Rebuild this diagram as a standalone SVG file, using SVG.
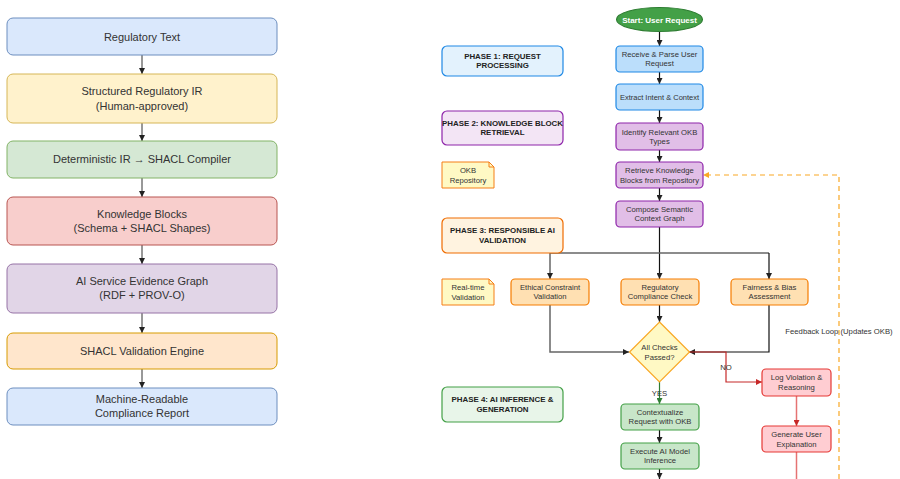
<svg xmlns="http://www.w3.org/2000/svg" width="900" height="479" viewBox="0 0 900 479">
<defs>
<marker id="ah" viewBox="0 0 10 10" refX="10" refY="5" markerWidth="6" markerHeight="6" markerUnits="userSpaceOnUse" orient="auto"><path d="M0,0 L10,5 L0,10 z" fill="#222"/></marker>
<marker id="ahr" viewBox="0 0 10 10" refX="10" refY="5" markerWidth="6" markerHeight="6" markerUnits="userSpaceOnUse" orient="auto"><path d="M0,0 L10,5 L0,10 z" fill="#c62828"/></marker>
<marker id="ahg" viewBox="0 0 10 10" refX="10" refY="5" markerWidth="6" markerHeight="6" markerUnits="userSpaceOnUse" orient="auto"><path d="M0,0 L10,5 L0,10 z" fill="#2e7d32"/></marker>
<marker id="aho" viewBox="0 0 10 10" refX="10" refY="5" markerWidth="6" markerHeight="6" markerUnits="userSpaceOnUse" orient="auto"><path d="M0,0 L10,5 L0,10 z" fill="#f9a825"/></marker>
</defs>
<style>
text{font-family:"Liberation Sans",Arial,sans-serif;fill:#333;text-anchor:middle}
.l{font-size:11px}
.s{font-size:7.7px}
.b{font-size:7.9px;font-weight:bold;fill:#222}
.w{font-size:8px;font-weight:bold;fill:#fff}
.c{fill:none;stroke:#333;stroke-width:1;marker-end:url(#ah)}
.k{fill:none;stroke:#111;stroke-width:1.2;marker-end:url(#ah)}
.g{fill:none;stroke:#666;stroke-width:1.5}
.blue{fill:#dae8fc;stroke:#6c8ebf}
.yel{fill:#fff2cc;stroke:#d6b656}
.grn{fill:#d5e8d4;stroke:#82b366}
.red{fill:#f8cecc;stroke:#b85450}
.pur{fill:#e1d5e7;stroke:#9673a6}
.org{fill:#ffe6cc;stroke:#d79b00}
.pb{fill:#bbdefb;stroke:#1e88e5;stroke-width:1.2}
.pp{fill:#e1bee7;stroke:#8e24aa;stroke-width:1.2}
.po{fill:#ffe0b2;stroke:#f57c00;stroke-width:1.2}
.pg{fill:#c8e6c9;stroke:#43a047;stroke-width:1.2}
.pr{fill:#ffcdd2;stroke:#e53935;stroke-width:1.2}
.note{fill:#fff9c4;stroke:#f57f17;stroke-width:1}
</style>
<rect width="900" height="479" fill="#fff"/>

<g id="connectors">
<line class="c" x1="142" y1="55" x2="142" y2="74"/>
<line class="c" x1="142" y1="123" x2="142" y2="141"/>
<line class="c" x1="142" y1="178" x2="142" y2="197"/>
<line class="c" x1="142" y1="245" x2="142" y2="264"/>
<line class="c" x1="142" y1="313" x2="142" y2="333"/>
<line class="c" x1="142" y1="369" x2="142" y2="388"/>

<line class="k" x1="659.5" y1="32" x2="659.5" y2="46"/>
<line class="k" x1="659.5" y1="72" x2="659.5" y2="84"/>
<line class="k" x1="659.5" y1="110" x2="659.5" y2="123"/>
<line class="k" x1="659.5" y1="150" x2="659.5" y2="162"/>
<line class="k" x1="659.5" y1="188" x2="659.5" y2="201"/>
<line class="k" x1="659.5" y1="227" x2="659.5" y2="279"/>
<polyline class="g" points="550,253 769,253"/>
<path class="g" d="M550,253 V279" style="marker-end:url(#ah)"/>
<path class="k" d="M769,253 V279"/>
<path class="k" d="M659.5,305 V322"/>
<path class="g" d="M550,305 V352 H629" style="marker-end:url(#ah)"/>
<path class="k" d="M769,305 V352 H689"/>
<path d="M689,352 H726 V382 H762" fill="none" stroke="#c62828" stroke-width="1.2" marker-end="url(#ahr)"/>
<path d="M659.5,382 V404" fill="none" stroke="#2e7d32" stroke-width="1.2" marker-end="url(#ahg)"/>
<line class="k" x1="659.5" y1="430" x2="659.5" y2="443"/>
<line class="k" x1="659.5" y1="469" x2="659.5" y2="479" style="marker-end:url(#ah)"/>
<line x1="796.5" y1="396" x2="796.5" y2="426" stroke="#e57373" stroke-width="1.5" marker-end="url(#ahr)"/>
<line x1="796.5" y1="452" x2="796.5" y2="479" stroke="#e57373" stroke-width="1.5"/>
<path d="M839,479 V175 H703" fill="none" stroke="#f9a825" stroke-width="1.2" stroke-dasharray="5,4" marker-end="url(#aho)"/>
<text class="s" x="839" y="334">Feedback Loop (Updates OKB)</text>
<text class="s" x="659.5" y="396">YES</text>
<text class="s" x="726" y="370">NO</text>
</g>

<g id="n-regtext"><rect class="blue" x="7" y="18" width="270" height="37" rx="6"/><text class="l" x="142" y="41">Regulatory Text</text></g>
<g id="n-ir"><rect class="yel" x="7" y="74" width="270" height="49" rx="6"/><text class="l" x="142" y="95">Structured Regulatory IR</text><text class="l" x="142" y="110">(Human-approved)</text></g>
<g id="n-compiler"><rect class="grn" x="7" y="141" width="270" height="37" rx="6"/><text class="l" x="142" y="163">Deterministic IR → SHACL Compiler</text></g>
<g id="n-kb"><rect class="red" x="7" y="197" width="270" height="48" rx="6"/><text class="l" x="142" y="218">Knowledge Blocks</text><text class="l" x="142" y="232">(Schema + SHACL Shapes)</text></g>
<g id="n-evidence"><rect class="pur" x="7" y="264" width="270" height="49" rx="6"/><text class="l" x="142" y="285">AI Service Evidence Graph</text><text class="l" x="142" y="299">(RDF + PROV-O)</text></g>
<g id="n-engine"><rect class="org" x="7" y="333" width="270" height="36" rx="6"/><text class="l" x="142" y="355">SHACL Validation Engine</text></g>
<g id="n-report"><rect class="blue" x="7" y="388" width="270" height="37" rx="6"/><text class="l" x="142" y="403">Machine-Readable</text><text class="l" x="142" y="417">Compliance Report</text></g>

<g id="p1"><rect x="442" y="46" width="121" height="30" rx="5" fill="#e3f2fd" stroke="#1e88e5" stroke-width="1.2"/><text class="b" x="502.5" y="58.5">PHASE 1: REQUEST</text><text class="b" x="502.5" y="68">PROCESSING</text></g>
<g id="p2"><rect x="442" y="111" width="121" height="34" rx="5" fill="#f3e5f5" stroke="#8e24aa" stroke-width="1.2"/><text class="b" x="502.5" y="125.5">PHASE 2: KNOWLEDGE BLOCK</text><text class="b" x="502.5" y="135">RETRIEVAL</text></g>
<g id="note-okb"><path class="note" d="M442,162 H489 L494,167 V188 H442 Z"/><path d="M489,162 V167 H494" fill="none" stroke="#f57f17"/><text class="s" x="468" y="173">OKB</text><text class="s" x="468" y="182.5">Repository</text></g>
<g id="p3"><rect x="442" y="218" width="121" height="35" rx="5" fill="#fff3e0" stroke="#ef6c00" stroke-width="1.2"/><text class="b" x="502.5" y="233">PHASE 3: RESPONSIBLE AI</text><text class="b" x="502.5" y="242.5">VALIDATION</text></g>
<g id="note-rt"><path class="note" d="M442,279 H489 L494,284 V305 H442 Z"/><path d="M489,279 V284 H494" fill="none" stroke="#f57f17"/><text class="s" x="468" y="290">Real-time</text><text class="s" x="468" y="299.5">Validation</text></g>
<g id="p4"><rect x="442" y="387" width="121" height="35" rx="5" fill="#e8f5e9" stroke="#43a047" stroke-width="1.2"/><text class="b" x="502.5" y="402">PHASE 4: AI INFERENCE &amp;</text><text class="b" x="502.5" y="411.5">GENERATION</text></g>

<g id="start"><ellipse cx="659.5" cy="19.5" rx="43" ry="12" fill="#43a047" stroke="#2e7d32" stroke-width="1.2"/><text class="w" x="659.5" y="22.5">Start: User Request</text></g>
<g id="receive"><rect class="pb" x="616" y="46" width="87" height="26" rx="4"/><text class="s" x="659.5" y="57">Receive &amp; Parse User</text><text class="s" x="659.5" y="66">Request</text></g>
<g id="extract"><rect class="pb" x="616" y="84" width="87" height="26" rx="4"/><text class="s" x="659.5" y="100" style="font-size:7.5px">Extract Intent &amp; Context</text></g>
<g id="identify"><rect class="pp" x="616" y="123" width="87" height="27" rx="4"/><text class="s" x="659.5" y="134.5">Identify Relevant OKB</text><text class="s" x="659.5" y="144">Types</text></g>
<g id="retrieve"><rect class="pp" x="616" y="162" width="87" height="26" rx="4"/><text class="s" x="659.5" y="173">Retrieve Knowledge</text><text class="s" x="659.5" y="182.5">Blocks from Repository</text></g>
<g id="compose"><rect class="pp" x="616" y="201" width="87" height="26" rx="4"/><text class="s" x="659.5" y="212">Compose Semantic</text><text class="s" x="659.5" y="221">Context Graph</text></g>
<g id="ethical"><rect class="po" x="511" y="279" width="78" height="26" rx="4"/><text class="s" x="550" y="290">Ethical Constraint</text><text class="s" x="550" y="299">Validation</text></g>
<g id="regcheck"><rect class="po" x="621" y="279" width="78" height="26" rx="4"/><text class="s" x="660" y="290">Regulatory</text><text class="s" x="660" y="299">Compliance Check</text></g>
<g id="fairness"><rect class="po" x="731" y="279" width="77" height="26" rx="4"/><text class="s" x="769.5" y="290">Fairness &amp; Bias</text><text class="s" x="769.5" y="299">Assessment</text></g>
<g id="decision"><path d="M659.5,322 L689.5,352 L659.5,382 L629.5,352 Z" fill="#fff9c4" stroke="#f9a825" stroke-width="1.2"/><text class="s" x="659.5" y="350">All Checks</text><text class="s" x="659.5" y="360">Passed?</text></g>
<g id="contextualize"><rect class="pg" x="621" y="404" width="78" height="26" rx="4"/><text class="s" x="660" y="415">Contextualize</text><text class="s" x="660" y="424">Request with OKB</text></g>
<g id="execute"><rect class="pg" x="621" y="443" width="78" height="26" rx="4"/><text class="s" x="660" y="454">Execute AI Model</text><text class="s" x="660" y="463">Inference</text></g>
<g id="logviol"><rect class="pr" x="762" y="369" width="69" height="27" rx="4"/><text class="s" x="796.5" y="380">Log Violation &amp;</text><text class="s" x="796.5" y="390">Reasoning</text></g>
<g id="genexpl"><rect class="pr" x="762" y="426" width="69" height="26" rx="4"/><text class="s" x="796.5" y="436.5">Generate User</text><text class="s" x="796.5" y="446.5">Explanation</text></g>
</svg>
